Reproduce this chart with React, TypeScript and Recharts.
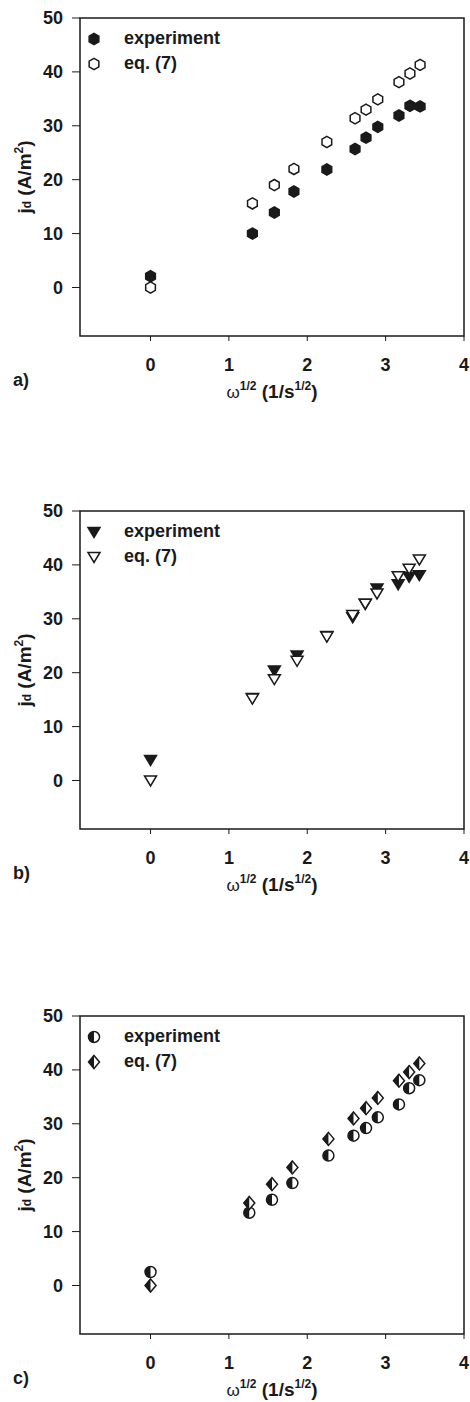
import React from 'react';
import { ScatterChart, Scatter, XAxis, YAxis, ReferenceArea, Legend } from 'recharts';

const xTicks = [0, 1, 2, 3, 4];
const yTicks = [0, 10, 20, 30, 40, 50];
const seriesNames = ['experiment', 'eq. (7)'];
const panelTags = ['a)', 'b)', 'c)'];

// panel a
const aX = [0, 1.3, 1.58, 1.83, 2.25, 2.61, 2.75, 2.9, 3.17, 3.31, 3.44];
const aExp = [2.1, 10, 13.9, 17.8, 21.9, 25.7, 27.8, 29.8, 31.9, 33.7, 33.6];
const aEq = [0, 15.6, 19.0, 22.0, 27.0, 31.4, 33.0, 34.9, 38.1, 39.7, 41.3];

// panel b
const bX = [0, 1.3, 1.58, 1.87, 2.25, 2.58, 2.74, 2.89, 3.16, 3.3, 3.43];
const bExp = [3.8, 15.3, 20.4, 23.2, 26.8, 30.3, 32.8, 35.6, 36.4, 37.8, 38.1];
const bEq = [0, 15.2, 18.8, 22.2, 26.7, 30.7, 32.8, 34.7, 37.9, 39.3, 41.0];

// panel c
const cX = [0, 1.26, 1.55, 1.81, 2.27, 2.59, 2.75, 2.9, 3.17, 3.3, 3.43];
const cExp = [2.5, 13.5, 15.9, 19.0, 24.1, 27.8, 29.2, 31.2, 33.6, 36.6, 38.1];
const cEq = [0, 15.3, 18.8, 21.9, 27.2, 31.0, 32.9, 34.8, 38.0, 39.6, 41.2];

const FONT = '"Liberation Sans", Arial, sans-serif';
const INK = '#1a1a1a';

const toPoints = (xs: number[], ys: number[]) => xs.map((x, i) => ({ x, y: ys[i] }));

// marker shapes
const hexagon = (fill: string) => (props: any) => {
  const { cx, cy } = props;
  const r = 5.6;
  const pts = [-90, -30, 30, 90, 150, 210]
    .map((a) => `${cx + r * Math.cos((a * Math.PI) / 180)},${cy + r * Math.sin((a * Math.PI) / 180)}`)
    .join(' ');
  return <polygon points={pts} fill={fill} stroke={INK} strokeWidth={1.5} />;
};

const triangleDown = (fill: string) => (props: any) => {
  const { cx, cy } = props;
  return (
    <polygon
      points={`${cx - 6},${cy - 4.5} ${cx + 6},${cy - 4.5} ${cx},${cy + 5.5}`}
      fill={fill}
      stroke={INK}
      strokeWidth={1.5}
    />
  );
};

const halfCircle = (props: any) => {
  const { cx, cy } = props;
  const r = 5.5;
  return (
    <g>
      <circle cx={cx} cy={cy} r={r} fill="#fff" stroke={INK} strokeWidth={1.5} />
      <path d={`M${cx},${cy - r} A${r},${r} 0 0 0 ${cx},${cy + r} Z`} fill={INK} />
    </g>
  );
};

const halfDiamond = (props: any) => {
  const { cx, cy } = props;
  return (
    <g>
      <polygon points={`${cx},${cy - 6.5} ${cx + 5.5},${cy} ${cx},${cy + 6.5} ${cx - 5.5},${cy}`} fill="#fff" stroke={INK} strokeWidth={1.5} />
      <polygon points={`${cx},${cy - 6.5} ${cx - 5.5},${cy} ${cx},${cy + 6.5}`} fill={INK} />
    </g>
  );
};

const YTitle = ({ viewBox }: any) => {
  const cy = viewBox.y + viewBox.height / 2;
  return (
    <text x={31} y={cy} transform={`rotate(-90, 31, ${cy})`} textAnchor="middle" fontFamily={FONT} fontWeight="bold" fontSize={19} fill={INK}>
      j<tspan fontSize={12}>d</tspan> (A/m<tspan fontSize={12} dy={-8}>2</tspan>
      <tspan dy={8}>)</tspan>
    </text>
  );
};

const XTitle = (tag: string) => ({ viewBox }: any) => {
  const cx = viewBox.x + viewBox.width / 2;
  return (
    <g fontFamily={FONT} fill={INK}>
      <text x={13} y={viewBox.y + 50} fontWeight="bold" fontSize={18}>
        {tag}
      </text>
      <text x={cx} y={viewBox.y + 62} textAnchor="middle" fontWeight="bold" fontSize={19}>
        <tspan fontWeight="normal" fontSize={17}>ω</tspan>
        <tspan fontSize={12} dy={-8}>1/2</tspan>
        <tspan dy={8}> (1/s</tspan>
        <tspan fontSize={12} dy={-8}>1/2</tspan>
        <tspan dy={8}>)</tspan>
      </text>
    </g>
  );
};

const LegendBox = (icons: React.ReactNode[]) => () => (
  <div style={{ fontFamily: FONT, fontWeight: 'bold', fontSize: 18, color: INK }}>
    {seriesNames.map((name, i) => (
      <div key={name} style={{ display: 'flex', alignItems: 'center', height: 25 }}>
        <svg width={20} height={20} style={{ marginRight: 20 }}>
          {icons[i]}
        </svg>
        <span>{name}</span>
      </div>
    ))}
  </div>
);

interface PanelProps {
  top: number;
  tag: string;
  xs: number[];
  exp: number[];
  eq: number[];
  expShape: any;
  eqShape: any;
}

function Panel({ top, tag, xs, exp, eq, expShape, eqShape }: PanelProps) {
  const icons = [expShape({ cx: 10, cy: 10 }), eqShape({ cx: 10, cy: 10 })];
  return (
    <div style={{ position: 'absolute', left: 0, top }}>
      <ScatterChart width={470} height={410} margin={{ top: 18, right: 6, bottom: 14, left: 0 }}>
        <XAxis
          type="number"
          dataKey="x"
          domain={[-0.9, 4]}
          ticks={xTicks}
          allowDataOverflow
          height={60}
          axisLine={false}
          tickSize={5}
          tickMargin={17}
          tickLine={{ stroke: INK }}
          tick={{ fill: INK, fontFamily: FONT, fontWeight: 'bold', fontSize: 18 }}
          label={{ content: XTitle(tag) }}
        />
        <YAxis
          type="number"
          dataKey="y"
          domain={[-9, 50]}
          ticks={yTicks}
          allowDataOverflow
          width={80}
          axisLine={false}
          tickSize={8}
          tickMargin={9}
          tickLine={{ stroke: INK }}
          tick={{ fill: INK, fontFamily: FONT, fontWeight: 'bold', fontSize: 18 }}
          label={{ content: YTitle }}
        />
        <ReferenceArea x1={-0.9} x2={4} y1={-9} y2={50} fill="none" stroke={INK} strokeWidth={1.5} />
        <Legend
          layout="vertical"
          align="center"
          verticalAlign="middle"
          wrapperStyle={{ top: 26, left: 84, width: 200 }}
          content={LegendBox(icons)}
        />
        <Scatter name={seriesNames[0]} data={toPoints(xs, exp)} shape={expShape} isAnimationActive={false} />
        <Scatter name={seriesNames[1]} data={toPoints(xs, eq)} shape={eqShape} isAnimationActive={false} />
      </ScatterChart>
    </div>
  );
}

export default function App() {
  return (
    <div style={{ position: 'absolute', left: 0, top: 0, width: 470, height: 1402, background: '#fff', overflow: 'hidden' }}>
      <Panel top={0} tag={panelTags[0]} xs={aX} exp={aExp} eq={aEq} expShape={hexagon(INK)} eqShape={hexagon('#fff')} />
      <Panel top={493} tag={panelTags[1]} xs={bX} exp={bExp} eq={bEq} expShape={triangleDown(INK)} eqShape={triangleDown('#fff')} />
      <Panel top={998} tag={panelTags[2]} xs={cX} exp={cExp} eq={cEq} expShape={halfCircle} eqShape={halfDiamond} />
    </div>
  );
}
